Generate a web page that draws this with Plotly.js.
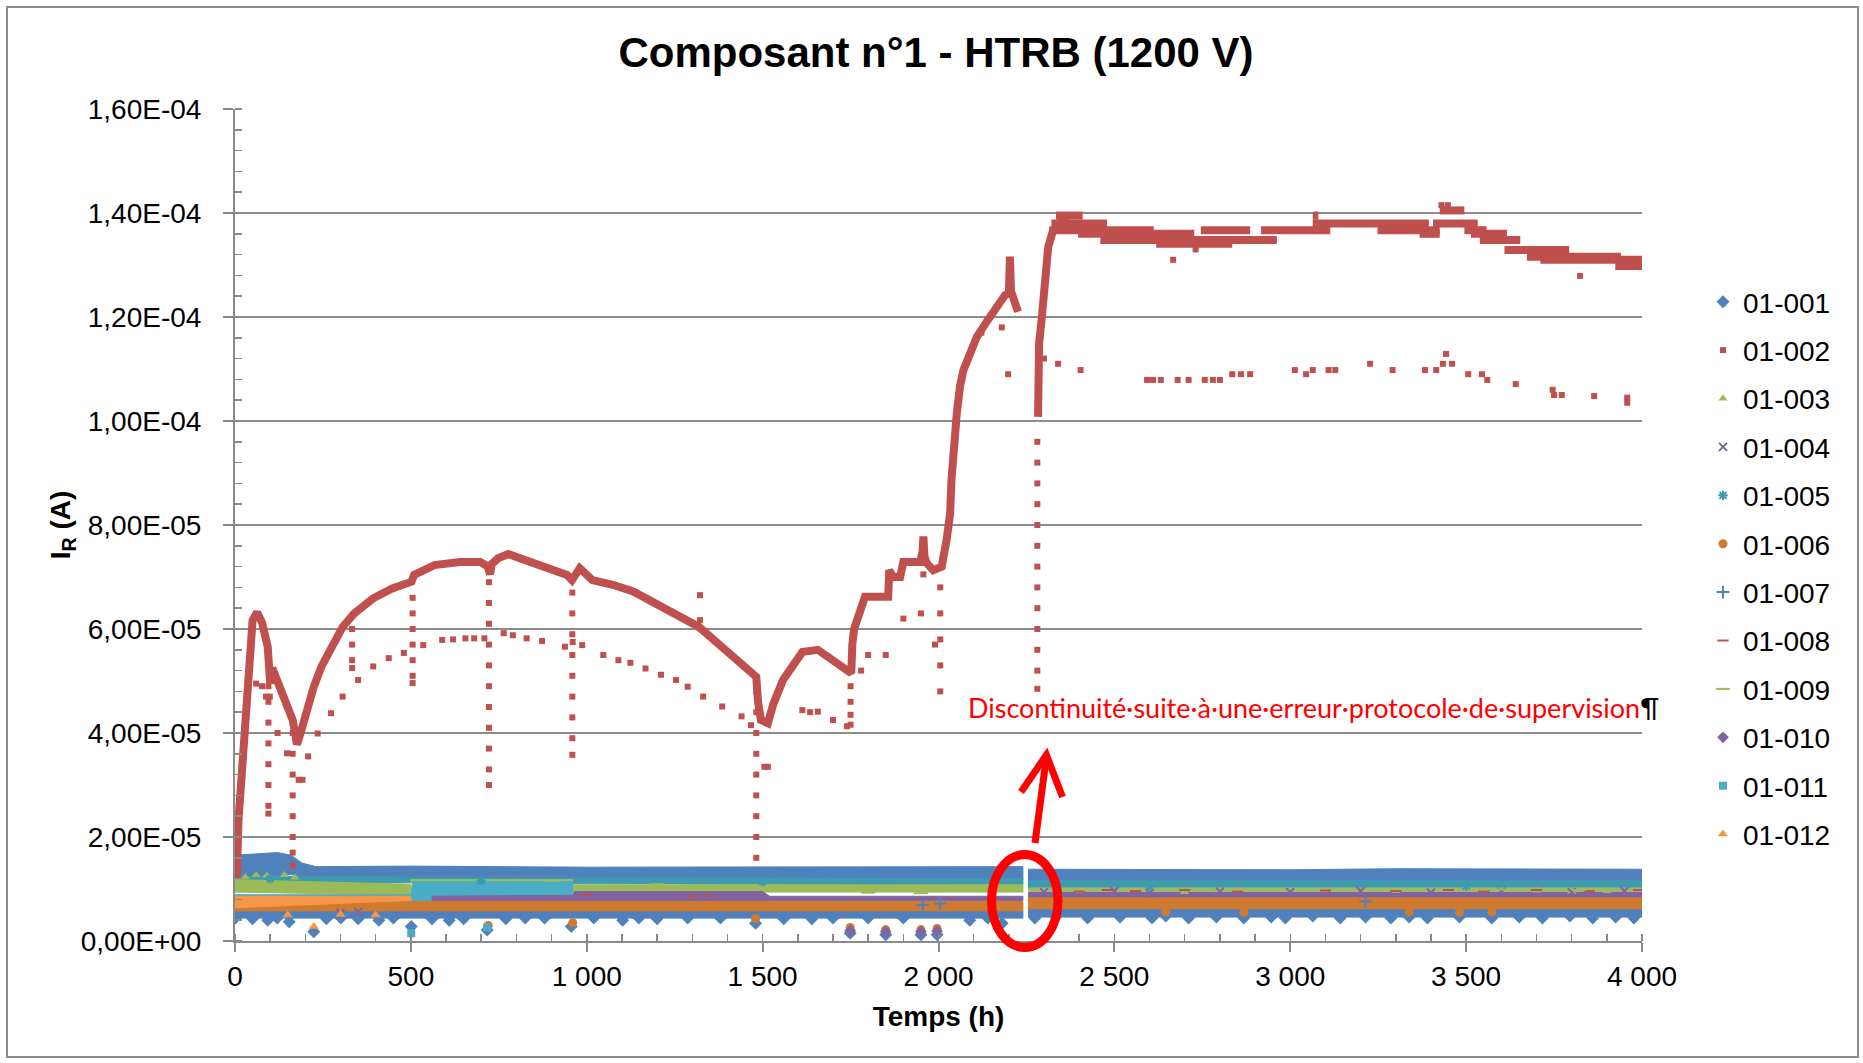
<!DOCTYPE html>
<html>
<head>
<meta charset="utf-8">
<script src="https://cdn.plot.ly/plotly-3.0.1.min.js"></script>
<style>html,body{margin:0;padding:0;background:#fff;}#chart{width:1863px;height:1063px;}</style>
</head>
<body>
<div id="chart"></div>
<script>
// ---------------- DATA (values in µA, time in h) ----------------
const UA = 1e-6;
const seriesNames = ['01-001','01-002','01-003','01-004','01-005','01-006','01-007','01-008','01-009','01-010','01-011','01-012'];
const xTickVals = [0,500,1000,1500,2000,2500,3000,3500,4000];
const xTickText = ['0','500','1 000','1 500','2 000','2 500','3 000','3 500','4 000'];
const yTickVals = [0,2e-5,4e-5,6e-5,8e-5,1e-4,1.2e-4,1.4e-4,1.6e-4];
const yTickText = ['0,00E+00','2,00E-05','4,00E-05','6,00E-05','8,00E-05','1,00E-04','1,20E-04','1,40E-04','1,60E-04'];

// 01-002 continuous part of the curve (null = break)
const s002Curve = [
 [5,12],[7,18],[10,23.3],[17,30],[28,40.6],[39,53.4],[50,61.7],[63,63.2],[77,61.2],[93,56.6],[97,52],[100,49.5],[106,52.5],
 [126,48.9],[148,45.1],[164,42.5],[172,39.5],[176,37.8],[186,39.9],[202,43.8],[224,48.9],[246,52.8],[273,56.6],[306,60.4],
 [339,63],[393,65.9],[447,67.8],[502,69.1],[509,70.4],[567,72.3],[639,72.9],[697,72.9],[719,72],[725,70.5],[730,72.5],
 [748,73.6],[777,74.4],[827,73.3],[886,72],[944,70.4],[958,69.4],[968,70.5],[980,71.7],[1016,69.4],[1074,68.5],[1132,67.2],
 [1176,65.6],[1265,62.7],[1319,60.4],[1373,57.2],[1428,54],[1482,50.8],[1487,46],[1495,42.5],[1515,41.9],[1530,45.5],
 [1558,50.2],[1613,55.6],[1657,56],[1700,54],[1740,52],[1752,51.5],[1755,57],[1760,60],[1775,63],[1791,66.2],[1857,66.2],
 [1860,71.3],[1871,70],[1891,70],[1900,72.9],[1948,72.9],[1955,75],[1957,77.8],[1960,74],[1966,72.7],[1985,71.3],[2009,72],
 [2023,77.1],[2033,82.2],[2037,88.7],[2042,93.8],[2047,97.9],[2052,101.5],[2061,106.6],[2071,109.8],[2090,113],[2109,116.2],
 [2137,119.1],[2166,122],[2189,124.2],[2200,124.5],[2203,131.6],[2206,125],[2217,122],[2226,121],
 null,
 [2283,100.8],[2286,114.9],[2293,119.4],[2298,124.6],[2303,129],[2312,133.5],[2326,136.7],[2355,138.7],[2393,136.5],
 null,[2334,139.5],[2410,139.5],null,[3064,139.5],[3080,139.5],null,[3425,140.5],[3495,140.5],
 null,[2321,138],[2479,138],null,[3064,138],[3394,138],null,[3406,138],[3533,138],
 null,[2315,136.7],[2612,136.7],null,[2746,136.7],[2886,136.7],null,[2917,136.7],[3114,136.7],null,[3248,136.7],[3425,136.7],null,[3495,136.7],[3558,136.7],
 null,[2397,136],[2727,136],null,[3368,136],[3425,136],null,[3514,136],[3616,136],
 null,[2460,134.8],[2962,134.8],null,[3539,134.8],[3654,134.8],
 null,[2619,134.1],[2835,134.1],
 null,[3609,132.9],[3793,132.9],
 null,[3673,131.6],[3940,131.6],
 null,[3711,131],[4003,131],
 null,[3924,129.8],[4003,129.8]
];
// 01-002 scattered points (secondary readings and drops)
const s002Pts = [
 [39,50],[60,49.5],[77,49],[88,47],[99,47],[121,40],[148,36.1],[181,31],[192,31],[208,35.5],[235,39.9],[273,43.8],[306,47],
 [350,50.2],[393,52.8],[437,54.4],[480,55.4],[535,56.9],[589,57.9],[620,58],[655,58.2],[680,58.2],[709,58.2],[764,59.2],
 [790,58.8],[829,58.2],[873,57.7],[938,56.6],[960,57.5],[987,56.9],[1047,55],[1090,54],[1124,53.5],[1167,52.4],[1211,51.2],
 [1254,50.2],[1287,48.9],[1331,47],[1385,45.1],[1440,43.2],[1467,41.5],[1505,33.5],[1515,33.5],[1613,44.4],[1635,44],
 [1657,44.1],[1700,42.5],[1740,41.3],[1780,52],[1800,55],[1850,55],[1900,62],[1950,63],[1957,70.5],[1990,57],[2122,117],
 [2180,118],[2198,109],
 [2300,112],[2340,111],[2404,109.8],[2593,107.9],[2610,107.9],[2632,107.9],[2680,107.9],[2711,107.9],[2757,107.9],[2780,107.9],
 [2800,107.9],[2835,109],[2860,109],[2886,109],[3013,109.8],[3045,109],[3064,109.8],[3109,109.8],[3128,109.8],[3227,111],
 [3291,109.8],[3383,109.8],[3415,109.8],[3434,111],[3443,112.9],[3460,111],[3506,109],[3545,109],[3560,107.9],[3641,107.1],
 [3746,106],[3750,105],[3772,105],[3864,104.8],[3958,104.5],[3958,103.5],
 [2667,131],[2731,133],[3824,127.9],[3430,141.5],[3448,141.5],
 [95,49],[95,46],[95,42],[95,38],[95,34],[95,30],[95,26],[95,24.5],
 [164,40],[164,36],[164,32],[164,28],[164,24],[164,20],[164,17],[164,14.5],
 [333,60],[333,57],[333,54],[333,52.5],
 [505,66],[505,63],[505,60],[505,57],[505,54],[505,51],[505,49.6],
 [722,69],[722,65],[722,61],[722,57],[722,53],[722,49],[722,45],[722,41],[722,37],[722,33],[722,30],
 [959,67],[959,63],[959,59],[959,55],[959,51],[959,47],[959,43],[959,39],[959,35.8],
 [1322,66.5],[1322,61.7],
 [1482,48],[1482,44],[1482,40],[1482,36],[1482,32],[1482,28],[1482,24],[1482,20],[1482,16],
 [1750,49],[1750,46],[1750,43.5],[1750,41.6],
 [2005,68],[2005,63],[2005,58],[2005,53],[2005,48],
 [2281,96],[2281,92],[2281,88],[2281,84],[2281,80],[2281,76],[2281,72],[2281,68],[2281,64],[2281,60],[2281,56],[2281,52],[2281,48.5]
];

// Dense bands of the other components: [h, low, high] (null = discontinuity)
const band007 = [[0,12.5,16.5],[60,12.5,16.8],[120,12.5,17],[160,12.8,16.5],[190,12.4,15],[230,12.1,14.3],[500,12.1,14.4],[1000,12,14.2],[1500,12,14.2],[2000,11.8,14.2],[2240,11.8,14.3],null,[2256,11.4,13.8],[3000,11.4,13.7],[3300,11.4,13.9],[4000,11.4,13.8]];
const band005 = [[0,11,12.5],[500,11.2,12.3],[1000,11,12.1],[2240,10.8,12],null,[2256,10.2,11.6],[4000,10.2,11.6]];
const band003 = [[0,9.4,11.8],[150,9.2,11.5],[500,8.8,10.9],null,[960,9.4,10.8],[2240,9.4,10.8]];
const band009 = [[500,11.2,11.8],[960,11.2,11.8],null,[2256,9.6,10.2],[4000,9.6,10.2]];
const band011 = [[0,7.9,8.9],[500,7.9,8.9],[505,7.6,11.4],[960,7.6,11.4]];
const band010 = [[560,7.6,8.6],[960,7.6,8.8],[965,7.6,9.5],[1500,7.6,9.5],[1520,7.8,8.6],[2240,7.8,8.6],null,[2256,8.3,9.4],[4000,8.3,9.4]];
const band012 = [[0,5,8.6],[500,5,8.6]];
const band006 = [[0,5.3,6.2],[500,5.6,7.6],[2240,5.6,7.6],null,[2256,6,8.3],[4000,6,8.3]];
const band001 = [[0,4.4,5.6],[2240,4.4,5.6],null,[2256,4.6,6],[4000,4.6,6]];

// Scattered points of the other components
const s001Pts = [[1,4.4],[50,4.3],[93,4.0],[120,4.4],[154,3.7],[224,1.8],[260,4.3],[301,4.4],[350,4.3],[409,4.0],[450,4.4],[501,2.8],[560,4.3],[609,4.0],[650,4.3],[717,2.1],[770,4.3],[825,4.4],[880,4.4],[956,2.8],[1020,4.4],[1102,4.0],[1148,4.4],[1200,4.3],[1287,4.4],[1380,4.4],[1480,3.4],[1560,4.3],[1640,4.3],[1700,4.4],[1749,1.5],[1800,4.4],[1850,1.2],[1900,4.4],[1950,1.2],[1996,1.2],[2089,4.0],[2140,4.4],[2181,3.4],
 [2274,4.4],[2333,4.6],[2424,4.4],[2516,4.6],[2607,4.4],[2646,4.8],[2711,4.4],[2790,4.6],[2868,4.4],[2946,4.6],[2986,4.4],[3064,4.8],[3142,4.4],[3214,4.6],[3286,4.4],[3338,4.6],[3390,4.4],[3481,4.6],[3573,4.4],[3651,4.6],[3717,4.4],[3795,4.8],[3860,4.4],[3925,4.6],[3977,4.4]];
const s003Pts = [[30,12.3],[60,12.7],[90,12.6],[140,12.7],[170,12.2],[2400,9.6],[2700,9.4],[3300,9.6],[3700,9.7],[3800,9.4],[3900,9.6]];
const s004Pts = [[300,5.4],[350,5.6],[2300,9.4],[2500,9.6],[2600,9.2],[2800,9.5],[3000,9.4],[3200,9.6],[3400,9.3],[3600,9.5],[3800,9.4],[3950,9.6]];
const s005Pts = [[100,12],[700,11.6],[1500,11.4],[2600,10.5],[3500,10.6]];
const s006Pts = [[720,3],[960,3.5],[1480,4.3],[1749,2.6],[1850,2.2],[1950,2.2],[1996,2.4],[2646,5.6],[2868,5.5],[3338,5.6],[3481,5.5],[3573,5.6]];
const s007Pts = [[1955,6.9],[2005,7.2],[3214,7.6]];
const s008Pts = [[1000,8.9],[1300,8.6],[1350,8.7],[2400,9.5],[2480,9.8],[2560,9.6],[2700,9.8],[2850,9.5],[3100,9.7],[3300,9.6],[3450,9.8],[3550,9.5],[3700,9.8],[3850,9.6],[3990,9.8]];
const s009Pts = [[900,11.6],[1200,10.9],[1700,10.1],[1800,9.3],[1950,9.2],[2000,9.6],[2900,9.8],[3600,9.9],[3820,9.8]];
const s010Pts = [[1749,2.0],[1850,1.8],[1950,1.8],[1996,1.9]];
const s011Pts = [[501,1.5],[717,2.6]];
const s012Pts = [[150,5],[224,2.8],[300,5.1],[400,5]];

// ---------------- STYLE ----------------
const C = {blue:'#4F81BD', red:'#C0504D', green:'#9BBB59', purple:'#8064A2', teal:'#3E9AB0', cyan:'#4BACC6', orange:'#F79646', brown:'#D07A30'};
const FONT = 'Liberation Sans, Arial, sans-serif';

function bandPoly(knots){
  const xs=[], ys=[]; let seg=[];
  const flush=()=>{ if(!seg.length) return;
    seg.forEach(k=>{xs.push(k[0]); ys.push(k[2]*UA);});
    seg.slice().reverse().forEach(k=>{xs.push(k[0]); ys.push(k[1]*UA);});
    xs.push(seg[0][0]); ys.push(seg[0][2]*UA);
    xs.push(null); ys.push(null); seg=[]; };
  knots.forEach(k=>{ if(k===null) flush(); else seg.push(k); });
  flush();
  return {x:xs,y:ys};
}
function bandTrace(knots,color){
  const p=bandPoly(knots);
  return {type:'scatter',mode:'lines',x:p.x,y:p.y,fill:'toself',fillcolor:color,line:{color:color,width:1},showlegend:false,hoverinfo:'skip'};
}
function pts(arr){return {x:arr.map(p=>p===null?null:p[0]), y:arr.map(p=>p===null?null:p[1]*UA)};}
function markTrace(name,arr,color,symbol,size){
  const p=pts(arr);
  return {type:'scatter',mode:'markers',name:name,legendgroup:name,x:p.x,y:p.y,marker:{color:color,symbol:symbol,size:size,line:{width:symbol.indexOf('open')>=0?2:0,color:color}},hoverinfo:'skip'};
}

const traces=[];
traces.push(bandTrace(band007,C.blue));
traces.push(bandTrace(band005,C.teal));
traces.push(bandTrace(band009,C.green));
traces.push(bandTrace(band003,C.green));
traces.push(bandTrace(band011,C.cyan));
traces.push(bandTrace(band010,C.purple));
traces.push(bandTrace(band012,C.orange));
traces.push(bandTrace(band006,C.brown));
traces.push(bandTrace(band001,C.blue));
const cp=pts(s002Curve);
traces.push({type:'scatter',mode:'lines',x:cp.x,y:cp.y,line:{color:C.red,width:8},showlegend:false,hoverinfo:'skip',connectgaps:false});

traces.push(markTrace(seriesNames[0],s001Pts,C.blue,'diamond',10));
traces.push(markTrace(seriesNames[1],s002Pts,C.red,'square',6));
traces.push(markTrace(seriesNames[2],s003Pts,C.green,'triangle-up',8));
traces.push(markTrace(seriesNames[3],s004Pts,C.purple,'x-thin-open',8));
traces.push(markTrace(seriesNames[4],s005Pts,C.teal,'asterisk-open',8));
traces.push(markTrace(seriesNames[5],s006Pts,C.brown,'circle',9));
traces.push(markTrace(seriesNames[6],s007Pts,C.blue,'cross-thin-open',9));
traces.push(markTrace(seriesNames[7],s008Pts,C.red,'line-ew-open',8));
traces.push(markTrace(seriesNames[8],s009Pts,C.green,'line-ew-open',10));
traces.push(markTrace(seriesNames[9],s010Pts,C.purple,'diamond',9));
traces.push(markTrace(seriesNames[10],s011Pts,C.cyan,'square',8));
traces.push(markTrace(seriesNames[11],s012Pts,C.orange,'triangle-up',9));

// pixel -> paper helpers for decorations
const PL=235, PR=1642, PT=109, PB=941;
const px=x=>(x-PL)/(PR-PL), py=y=>(PB-y)/(PB-PT);

const layout={
  width:1863,height:1063,
  margin:{l:PL,r:1863-PR,t:PT,b:1063-PB,pad:0},
  paper_bgcolor:'#ffffff',plot_bgcolor:'#ffffff',
  font:{family:FONT,color:'#000',size:28},
  showlegend:true,
  title:{text:'<b>Composant n°1 - HTRB (1200 V)</b>',font:{family:FONT,size:42,color:'#000'},x:px(936),xref:'paper',xanchor:'center',y:1-52/1063,yref:'container',yanchor:'middle'},
  xaxis:{range:[0,4000],tickvals:xTickVals,ticktext:xTickText,showgrid:false,zeroline:false,showline:true,linecolor:'#8a8a8a',linewidth:2,
    ticks:'outside',ticklen:9,tickwidth:2,tickcolor:'#8a8a8a',tickfont:{size:28,family:FONT},ticklabelstandoff:0,
    minor:{dtick:100,ticks:'inside',ticklen:7,tickwidth:1.5,tickcolor:'#8a8a8a',showgrid:false},
    title:{text:'<b>Temps (h)</b>',font:{size:28,family:FONT},standoff:16}},
  yaxis:{range:[0,1.6e-4],tickvals:yTickVals,ticktext:yTickText,showgrid:true,gridcolor:'#8c8c8c',gridwidth:2,zeroline:false,showline:true,linecolor:'#8a8a8a',linewidth:2,
    ticks:'outside',ticklen:10,tickwidth:2,tickcolor:'#8a8a8a',tickfont:{size:28,family:FONT},ticklabelstandoff:16,
    minor:{dtick:4e-6,ticks:'inside',ticklen:7,tickwidth:1.5,tickcolor:'#8a8a8a',showgrid:false},
    title:{text:'<b>I<sub>R</sub> (A)</b>',font:{size:28,family:FONT},standoff:2}},
  legend:{x:px(1703),xanchor:'left',y:py(277),yanchor:'top',font:{size:28,family:FONT,color:'#000'},bgcolor:'rgba(0,0,0,0)',tracegroupgap:9,itemwidth:30},
  hovermode:false,
  shapes:[
    {type:'rect',xref:'paper',yref:'paper',x0:px(7),x1:px(1858),y0:py(1057),y1:py(7),line:{color:'#8c8c8c',width:2},fillcolor:'rgba(0,0,0,0)',layer:'below'},
    {type:'circle',xref:'paper',yref:'paper',x0:px(991.5),x1:px(1058),y0:py(947.5),y1:py(854.5),line:{color:'#FF0000',width:9}},
    {type:'line',xref:'paper',yref:'paper',x0:px(1035),y0:py(843),x1:px(1046.4),y1:py(757),line:{color:'#FF0000',width:7}},
    {type:'path',xref:'paper',yref:'paper',path:`M ${px(1021)},${py(792)} L ${px(1046.4)},${py(755)} L ${px(1062.5)},${py(797)}`,line:{color:'#FF0000',width:7}}
  ],
  annotations:[
    {xref:'paper',yref:'paper',x:px(966),y:py(707),xanchor:'left',yanchor:'middle',showarrow:false,
     text:'Discontinuité·suite·à·une·erreur·protocole·de·supervision<span style="color:#000">¶</span>',
     font:{family:'Lato, Noto Sans, sans-serif',size:27,color:'#FF0000'}}
  ]
};
Plotly.newPlot('chart',traces,layout,{displayModeBar:false,staticPlot:true});
</script>
</body>
</html>
